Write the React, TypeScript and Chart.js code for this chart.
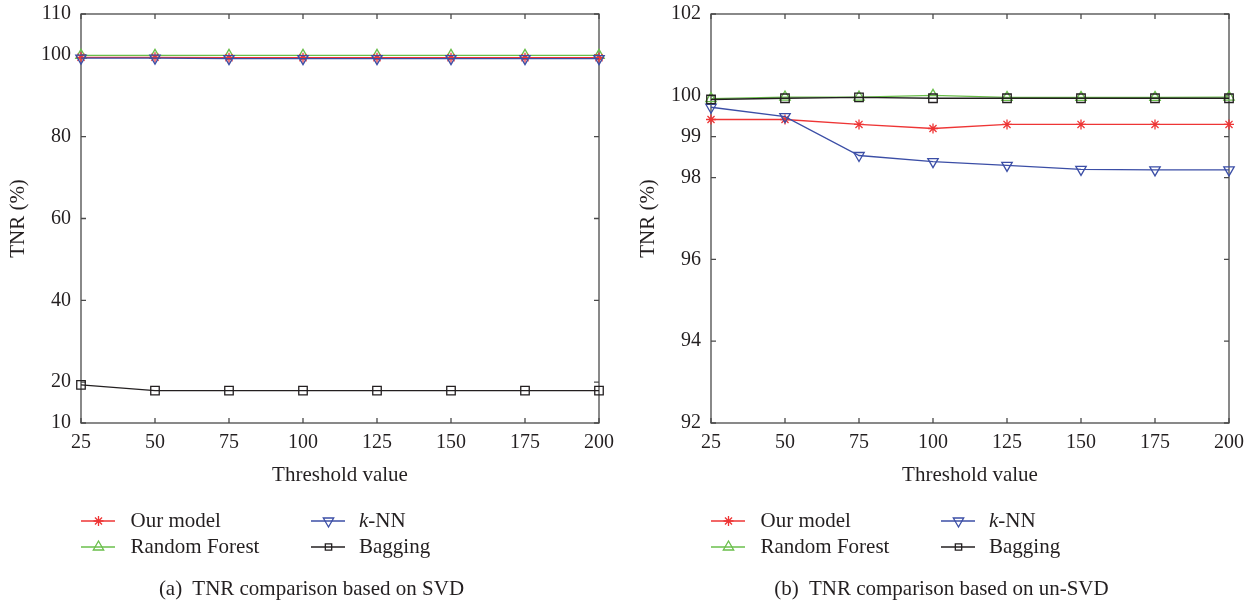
import React, { useEffect, useRef } from 'react';
import { Chart, registerables } from 'chart.js';

Chart.register(...registerables);

// ---------- data ----------
const thresholds = ['25', '50', '75', '100', '125', '150', '175', '200'];
const seriesNames = ['Our model', 'Random Forest', 'k-NN', 'Bagging'];

const svdOurModel = [99.4, 99.4, 99.3, 99.3, 99.3, 99.3, 99.3, 99.3];
const svdRandomForest = [99.9, 99.9, 99.9, 99.9, 99.9, 99.9, 99.9, 99.9];
const svdKnn = [99.2, 99.2, 99.1, 99.1, 99.1, 99.1, 99.1, 99.1];
const svdBagging = [19.3, 17.9, 17.9, 17.9, 17.9, 17.9, 17.9, 17.9];
const svdYTicks = [10, 20, 40, 60, 80, 100, 110];

const unsvdOurModel = [99.42, 99.42, 99.3, 99.2, 99.3, 99.3, 99.3, 99.3];
const unsvdRandomForest = [99.93, 99.97, 99.97, 100.01, 99.96, 99.96, 99.96, 99.97];
const unsvdKnn = [99.72, 99.49, 98.54, 98.39, 98.3, 98.2, 98.19, 98.19];
const unsvdBagging = [99.91, 99.94, 99.96, 99.94, 99.94, 99.94, 99.94, 99.94];
const unsvdYTicks = [92, 94, 96, 98, 99, 100, 102];

// ---------- styles ----------
const FONT = '"Liberation Serif", "DejaVu Serif", serif';
const TEXT = '#231f20';
const seriesStyles = [
  { color: '#ee3535', pointStyle: 'star', radius: 5, rotation: 0, order: 2 },
  { color: '#6abf4b', pointStyle: 'triangle', radius: 6, rotation: 0, order: 3 },
  { color: '#3b4ea6', pointStyle: 'triangle', radius: 6, rotation: 180, order: 1 },
  { color: '#231f20', pointStyle: 'rect', radius: 6, rotation: 0, order: 0 },
];

const framePlugin = {
  id: 'frame',
  beforeDatasetsDraw(chart: any) {
    const { ctx, chartArea: a, scales } = chart;
    const x = scales.x;
    const y = scales.y;
    ctx.save();
    ctx.strokeStyle = '#4a4a4a';
    ctx.lineWidth = 1.3;
    ctx.strokeRect(a.left, a.top, a.right - a.left, a.bottom - a.top);
    const L = 5;
    ctx.beginPath();
    x.ticks.forEach((_t: any, i: number) => {
      const px = x.getPixelForTick(i);
      ctx.moveTo(px, a.bottom);
      ctx.lineTo(px, a.bottom - L);
      ctx.moveTo(px, a.top);
      ctx.lineTo(px, a.top + L);
    });
    y.ticks.forEach((t: any) => {
      const py = y.getPixelForValue(t.value);
      ctx.moveTo(a.left, py);
      ctx.lineTo(a.left + L, py);
      ctx.moveTo(a.right, py);
      ctx.lineTo(a.right - L, py);
    });
    ctx.stroke();
    ctx.restore();
  },
};

function drawMarker(ctx: CanvasRenderingContext2D, kind: string, rotation: number, x: number, y: number, r: number) {
  ctx.beginPath();
  if (kind === 'star') {
    for (let k = 0; k < 4; k++) {
      const ang = (k * Math.PI) / 4;
      ctx.moveTo(x - Math.sin(ang) * r, y - Math.cos(ang) * r);
      ctx.lineTo(x + Math.sin(ang) * r, y + Math.cos(ang) * r);
    }
  } else if (kind === 'triangle') {
    let rad = (rotation * Math.PI) / 180;
    ctx.moveTo(x + Math.sin(rad) * r, y - Math.cos(rad) * r);
    rad += (2 * Math.PI) / 3;
    ctx.lineTo(x + Math.sin(rad) * r, y - Math.cos(rad) * r);
    rad += (2 * Math.PI) / 3;
    ctx.lineTo(x + Math.sin(rad) * r, y - Math.cos(rad) * r);
    ctx.closePath();
  } else {
    const s = r * Math.SQRT1_2;
    ctx.rect(x - s, y - s, 2 * s, 2 * s);
  }
  ctx.stroke();
}

const legendPlugin = {
  id: 'gridLegend',
  afterDraw(chart: any) {
    const ctx: CanvasRenderingContext2D = chart.ctx;
    const rowY = [521, 547];
    const colLine = [81, 311];
    const colText = [130.5, 359];
    const layout = [
      [0, 0],
      [0, 1],
      [1, 0],
      [1, 1],
    ];
    ctx.save();
    seriesNames.forEach((name, i) => {
      const st = seriesStyles[i];
      const [c, r] = layout[i];
      const y = rowY[r];
      const x0 = colLine[c];
      ctx.strokeStyle = st.color;
      ctx.lineWidth = 1.3;
      ctx.beginPath();
      ctx.moveTo(x0, y);
      ctx.lineTo(x0 + 34, y);
      ctx.stroke();
      drawMarker(ctx, st.pointStyle, st.rotation, x0 + 17.5, y, st.pointStyle === 'rect' ? 4.5 : st.radius);
      ctx.fillStyle = TEXT;
      ctx.textBaseline = 'middle';
      ctx.textAlign = 'left';
      if (name.startsWith('k-')) {
        ctx.font = `italic 21px ${FONT}`;
        ctx.fillText('k', colText[c], y);
        const w = ctx.measureText('k').width;
        ctx.font = `21px ${FONT}`;
        ctx.fillText(name.slice(1), colText[c] + w, y);
      } else {
        ctx.font = `21px ${FONT}`;
        ctx.fillText(name, colText[c], y);
      }
    });
    ctx.restore();
  },
};

function makeConfig(values: number[][], yTicks: number[], rightPad: number): any {
  return {
    type: 'line',
    data: {
      labels: thresholds,
      datasets: values.map((v, i) => ({
        label: seriesNames[i],
        data: v,
        borderColor: seriesStyles[i].color,
        backgroundColor: 'rgba(0,0,0,0)',
        borderWidth: 1.3,
        pointStyle: seriesStyles[i].pointStyle,
        pointRadius: seriesStyles[i].radius,
        pointRotation: seriesStyles[i].rotation,
        pointBorderColor: seriesStyles[i].color,
        pointBackgroundColor: 'rgba(0,0,0,0)',
        pointBorderWidth: 1.3,
        tension: 0,
        fill: false,
        clip: false,
        order: seriesStyles[i].order,
      })),
    },
    options: {
      responsive: false,
      animation: false,
      events: [],
      layout: { padding: { left: 0, right: rightPad, top: 14, bottom: 605 - 423 - 70 } },
      plugins: { legend: { display: false }, tooltip: { enabled: false } },
      scales: {
        x: {
          type: 'category',
          offset: false,
          grid: { display: false, drawTicks: false },
          border: { display: false },
          ticks: { color: TEXT, font: { family: FONT, size: 20 }, padding: 8, maxRotation: 0, autoSkip: false },
          title: {
            display: true,
            text: 'Threshold value',
            color: TEXT,
            font: { family: FONT, size: 21 },
            padding: { top: 0, bottom: 5 },
          },
          afterFit: (s: any) => {
            s.height = 70;
          },
        },
        y: {
          type: 'linear',
          min: yTicks[0],
          max: yTicks[yTicks.length - 1],
          grid: { display: false, drawTicks: false },
          border: { display: false },
          afterBuildTicks: (s: any) => {
            s.ticks = yTicks.map((v) => ({ value: v }));
          },
          ticks: { color: TEXT, font: { family: FONT, size: 20, lineHeight: 0.4 }, padding: 10 },
          title: {
            display: true,
            text: 'TNR (%)',
            color: TEXT,
            font: { family: FONT, size: 21 },
            padding: { top: 6, bottom: 0 },
          },
          afterFit: (s: any) => {
            s.width = 81;
          },
        },
      },
    },
    plugins: [framePlugin, legendPlugin],
  };
}

function Panel(props: { left: number; width: number; values: number[][]; yTicks: number[]; caption: string }) {
  const ref = useRef<HTMLCanvasElement | null>(null);
  useEffect(() => {
    if (!ref.current) return;
    const chart = new Chart(ref.current, makeConfig(props.values, props.yTicks, props.width - 599));
    return () => chart.destroy();
  }, []);
  return (
    <div style={{ position: 'absolute', left: props.left, top: 0, width: props.width, height: 605 }}>
      <canvas ref={ref} width={props.width} height={605} style={{ display: 'block' }} />
      <div
        style={{
          position: 'absolute',
          left: 0,
          width: 623,
          top: 575,
          lineHeight: '26px',
          textAlign: 'center',
          fontFamily: FONT,
          fontSize: 21,
          color: TEXT,
          whiteSpace: 'pre',
        }}
      >
        {props.caption}
      </div>
    </div>
  );
}

export default function App() {
  return (
    <div style={{ position: 'absolute', left: 0, top: 0, width: 1255, height: 605, background: '#fff', overflow: 'hidden' }}>
      <Panel
        left={0}
        width={630}
        values={[svdOurModel, svdRandomForest, svdKnn, svdBagging]}
        yTicks={svdYTicks}
        caption={'(a)  TNR comparison based on SVD'}
      />
      <Panel
        left={630}
        width={625}
        values={[unsvdOurModel, unsvdRandomForest, unsvdKnn, unsvdBagging]}
        yTicks={unsvdYTicks}
        caption={'(b)  TNR comparison based on un-SVD'}
      />
    </div>
  );
}
